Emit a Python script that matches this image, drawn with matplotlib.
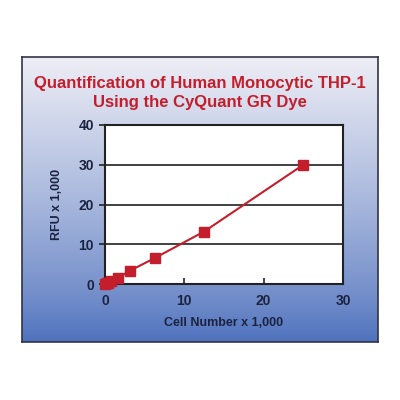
import numpy as np
import matplotlib
matplotlib.use("Agg")
import matplotlib.pyplot as plt

# data
cells = [0, 0.2, 0.4, 0.8, 1.6, 3.1, 6.25, 12.5, 25]
rfu = [0, 0.15, 0.35, 0.7, 1.5, 3.3, 6.5, 13.2, 30]
xticks = [0, 10, 20, 30]
yticks = [0, 10, 20, 30, 40]

title = "Quantification of Human Monocytic THP-1\nUsing the CyQuant GR Dye"
red = "#c41e2c"
navy = "#1c2340"

plt.rcParams['font.family'] = ['Liberation Sans', 'DejaVu Sans']

fig = plt.figure(figsize=(4, 4), dpi=100)
fig.patch.set_facecolor("white")

# gradient panel behind the chart
bg = fig.add_axes([0.055, 0.145, 0.89, 0.7125])
top = np.array([0.93, 0.93, 0.96])
bot = np.array([0.30, 0.44, 0.74])
t = np.linspace(0, 1, 256)[:, None]
grad = top * (1 - t[..., None]) ** 0.8 + bot * (1 - (1 - t[..., None]) ** 0.8)
grad = np.repeat(grad, 2, axis=1)
bg.imshow(grad, aspect="auto", extent=[0, 1, 0, 1])
bg.set_xticks([])
bg.set_yticks([])
for s in bg.spines.values():
    s.set_color("#333344")
    s.set_linewidth(1.2)

fig.text(0.5, 0.768, title, ha="center", va="center", color=red,
         fontsize=12, fontweight="bold", linespacing=1.3)

ax = fig.add_axes([0.2625, 0.29, 0.595, 0.3975])
ax.set_facecolor("white")
ax.plot(cells, rfu, color=red, lw=1.5, marker="s", ms=7,
        mfc=red, mec=red, zorder=3, clip_on=False)
ax.set_xlim(0, 30)
ax.set_ylim(0, 40)
ax.set_xticks(xticks)
ax.set_yticks(yticks)
ax.yaxis.grid(True, color="#333333", lw=1.3)
ax.tick_params(axis="y", direction="out", length=4, width=1.2, colors="#222222",
               labelcolor=navy, labelsize=10, pad=4)
ax.tick_params(axis="x", direction="in", length=4, width=1.2, colors="#222222",
               labelcolor=navy, labelsize=10, pad=7)
for lab in ax.get_xticklabels() + ax.get_yticklabels():
    lab.set_fontweight("bold")
for s in ax.spines.values():
    s.set_color("#222222")
    s.set_linewidth(1.5)
ax.set_xlabel("Cell Number x 1,000", fontsize=9, fontweight="bold",
              color=navy, labelpad=7)
ax.set_ylabel("RFU x 1,000", fontsize=9, fontweight="bold",
              color=navy, labelpad=11)

fig.savefig("out.png", dpi=100)
